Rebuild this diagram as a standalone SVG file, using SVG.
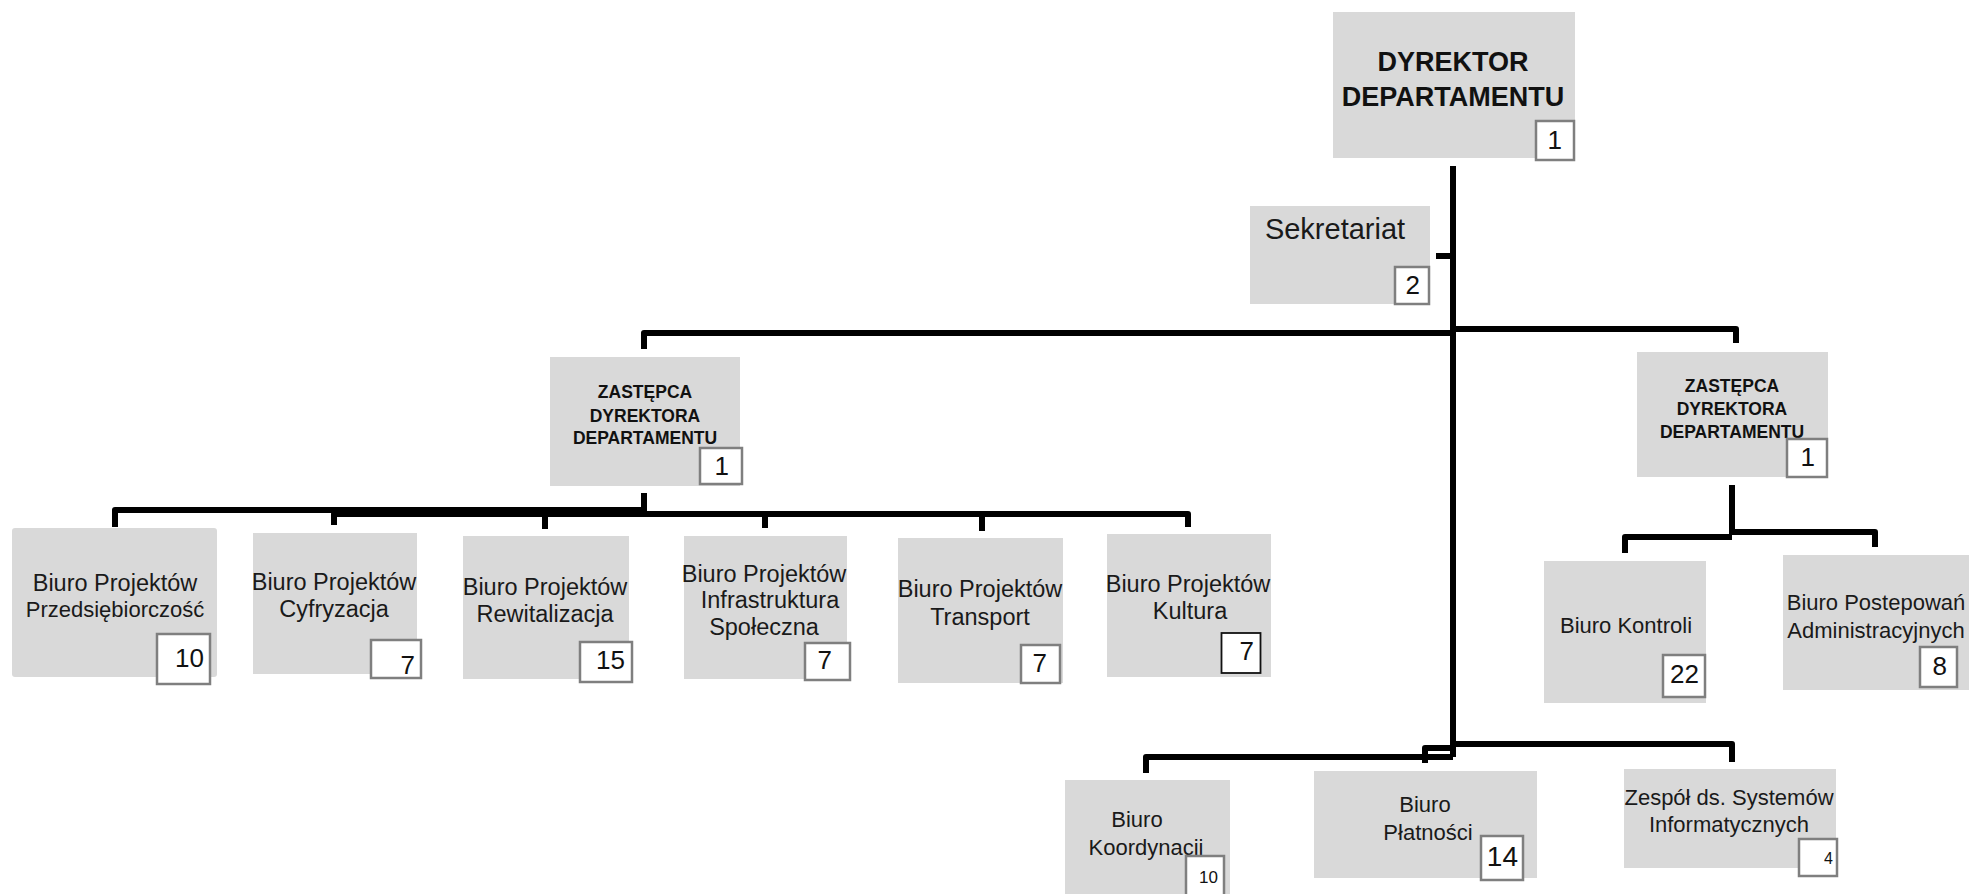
<svg xmlns="http://www.w3.org/2000/svg" width="1975" height="894" viewBox="0 0 1975 894">
<style>
.box{fill:#d9d9d9}
.bd{fill:#fff;stroke:#7f7f7f;stroke-width:2.5}
.bk{fill:#fff;stroke:#111;stroke-width:1.8}
.t{font-family:"Liberation Sans",Arial,sans-serif;font-size:22px;fill:#1a1a1a;text-anchor:middle}
.p{font-size:23.5px}
.h{font-family:"Liberation Sans",Arial,sans-serif;font-weight:bold;fill:#111;text-anchor:middle}
.n{font-family:"Liberation Sans",Arial,sans-serif;font-size:26px;fill:#111;text-anchor:end}
.c{fill:none;stroke:#000;stroke-width:6;stroke-linejoin:round;stroke-linecap:butt}
</style>
<rect width="1975" height="894" fill="#fff"/>
<g id="connectors">
<path class="c" d="M1453 166 V757"/>
<path class="c" d="M1436 256 H1453"/>
<path class="c" d="M1453 329 H1736 V343"/>
<path class="c" d="M1453 333 H644 V349"/>
<path class="c" d="M644 493 V512"/>
<path class="c" d="M115 527 V510 H644"/>
<path class="c" d="M334 525 V514 H1188 V527"/>
<path class="c" d="M545 513 V529"/>
<path class="c" d="M765 513 V528"/>
<path class="c" d="M982 513 V531"/>
<path class="c" d="M1732 485 V535"/>
<path class="c" d="M1625 553 V537 H1732"/>
<path class="c" d="M1732 532 H1875 V547"/>
<path class="c" d="M1453 744 H1732 V762"/>
<path class="c" d="M1453 757 H1146 V773"/>
<path class="c" d="M1425 763 V748 H1453"/>
</g>
<g id="dyrektor">
<rect class="box" x="1333" y="12" width="242" height="146"/>
<text class="h" font-size="27" x="1453" y="71">DYREKTOR</text>
<text class="h" font-size="27" x="1453" y="106">DEPARTAMENTU</text>
<rect class="bd" x="1536" y="121" width="38" height="39"/>
<text class="n" x="1562" y="149">1</text>
</g>
<g id="sekretariat">
<rect class="box" x="1250" y="206" width="180" height="98"/>
<text class="t" style="font-size:29px" x="1335" y="239">Sekretariat</text>
<rect class="bd" x="1395" y="267" width="34" height="37"/>
<text class="n" x="1420" y="294">2</text>
</g>
<g id="zastepca-lewy">
<rect class="box" x="550" y="357" width="190" height="129"/>
<text class="h" font-size="17.5" x="645" y="398">ZASTĘPCA</text>
<text class="h" font-size="17.5" x="645" y="422">DYREKTORA</text>
<text class="h" font-size="17.5" x="645" y="444">DEPARTAMENTU</text>
<rect class="bd" x="700" y="448" width="42" height="36"/>
<text class="n" x="729" y="475">1</text>
</g>
<g id="zastepca-prawy">
<rect class="box" x="1637" y="352" width="191" height="125"/>
<text class="h" font-size="17.5" x="1732" y="392">ZASTĘPCA</text>
<text class="h" font-size="17.5" x="1732" y="415">DYREKTORA</text>
<text class="h" font-size="17.5" x="1732" y="438">DEPARTAMENTU</text>
<rect class="bd" x="1787" y="439" width="40" height="38"/>
<text class="n" x="1815" y="466">1</text>
</g>
<g id="bp-przedsiebiorczosc">
<rect class="box" x="12" y="528" width="205" height="149" rx="3"/>
<text class="t p" x="115" y="591">Biuro Projektów</text>
<text class="t" x="115" y="617">Przedsiębiorczość</text>
<rect class="bd" x="157" y="634" width="53" height="50"/>
<text class="n" x="204" y="667">10</text>
</g>
<g id="bp-cyfryzacja">
<rect class="box" x="253" y="533" width="164" height="141"/>
<text class="t p" x="334" y="590">Biuro Projektów</text>
<text class="t p" x="334" y="617">Cyfryzacja</text>
<rect class="bd" x="371" y="640" width="50" height="38"/>
<text class="n" x="415" y="674">7</text>
</g>
<g id="bp-rewitalizacja">
<rect class="box" x="463" y="536" width="166" height="143"/>
<text class="t p" x="545" y="595">Biuro Projektów</text>
<text class="t p" x="545" y="622">Rewitalizacja</text>
<rect class="bd" x="580" y="642" width="52" height="40"/>
<text class="n" x="625" y="669">15</text>
</g>
<g id="bp-infrastruktura">
<rect class="box" x="684" y="536" width="163" height="143"/>
<text class="t p" x="764" y="582">Biuro Projektów</text>
<text class="t p" x="770" y="608">Infrastruktura</text>
<text class="t p" x="764" y="635">Społeczna</text>
<rect class="bd" x="805" y="643" width="45" height="37"/>
<text class="n" x="832" y="669">7</text>
</g>
<g id="bp-transport">
<rect class="box" x="898" y="538" width="165" height="145"/>
<text class="t p" x="980" y="597">Biuro Projektów</text>
<text class="t p" x="980" y="625">Transport</text>
<rect class="bd" x="1021" y="645" width="39" height="38"/>
<text class="n" x="1047" y="672">7</text>
</g>
<g id="bp-kultura">
<rect class="box" x="1107" y="534" width="164" height="143"/>
<text class="t p" x="1188" y="592">Biuro Projektów</text>
<text class="t p" x="1190" y="619">Kultura</text>
<rect class="bk" x="1221.5" y="633" width="39" height="40"/>
<text class="n" x="1254" y="660">7</text>
</g>
<g id="biuro-kontroli">
<rect class="box" x="1544" y="561" width="162" height="142"/>
<text class="t" x="1626" y="633">Biuro Kontroli</text>
<rect class="bd" x="1663" y="655" width="42" height="42"/>
<text class="n" x="1699" y="683">22</text>
</g>
<g id="biuro-postepowan">
<rect class="box" x="1783" y="555" width="186" height="135"/>
<text class="t" x="1876" y="610">Biuro Postepowań</text>
<text class="t" x="1876" y="638">Administracyjnych</text>
<rect class="bd" x="1920" y="647" width="37" height="40"/>
<text class="n" x="1947" y="675">8</text>
</g>
<g id="biuro-koordynacji">
<rect class="box" x="1065" y="780" width="165" height="120"/>
<text class="t" x="1137" y="827">Biuro</text>
<text class="t" x="1146" y="855">Koordynacji</text>
<rect class="bd" x="1186" y="856" width="38" height="44"/>
<text class="n" style="font-size:17px" x="1218" y="883">10</text>
</g>
<g id="biuro-platnosci">
<rect class="box" x="1314" y="771" width="223" height="107"/>
<text class="t" x="1425" y="812">Biuro</text>
<text class="t" x="1428" y="840">Płatności</text>
<rect class="bd" x="1481" y="836" width="42" height="44"/>
<text class="n" style="font-size:28px" x="1518" y="866">14</text>
</g>
<g id="zespol-systemow">
<rect class="box" x="1624" y="769" width="212" height="99"/>
<text class="t" x="1729" y="805">Zespół ds. Systemów</text>
<text class="t" x="1729" y="832">Informatycznych</text>
<rect class="bd" x="1799" y="839" width="38" height="37"/>
<text class="n" style="font-size:16px" x="1833" y="864">4</text>
</g>
</svg>
